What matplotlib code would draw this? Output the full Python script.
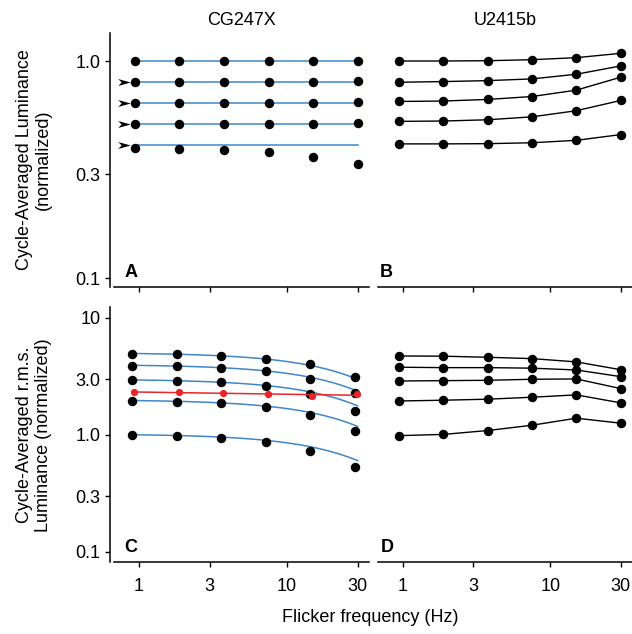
import numpy as np
import matplotlib
matplotlib.use("Agg")
import matplotlib.pyplot as plt
from matplotlib.path import Path
from matplotlib.ticker import NullLocator

plt.rcParams['font.family'] = ['Liberation Sans', 'DejaVu Sans']

# flicker frequencies (Hz)
freqs = [0.9375, 1.875, 3.75, 7.5, 15, 30]

# A: CG247X cycle-averaged luminance, one row per level
lum_cg = [
    [1.0, 1.0, 1.0, 1.0, 1.0, 1.0],
    [0.80, 0.80, 0.80, 0.80, 0.80, 0.81],
    [0.64, 0.64, 0.64, 0.64, 0.64, 0.65],
    [0.51, 0.51, 0.51, 0.51, 0.512, 0.52],
    [0.398, 0.395, 0.391, 0.380, 0.360, 0.337],
]
# nominal levels (blue lines) and the arrowed ones
lum_levels = [1.0, 0.8, 0.64, 0.512, 0.41]
arrow_levels = [0.8, 0.64, 0.512, 0.41]

# B: U2415b cycle-averaged luminance
lum_u = [
    [1.0, 1.0, 1.003, 1.014, 1.036, 1.085],
    [0.798, 0.804, 0.812, 0.827, 0.869, 0.949],
    [0.651, 0.654, 0.665, 0.686, 0.734, 0.842],
    [0.527, 0.529, 0.536, 0.553, 0.590, 0.658],
    [0.415, 0.415, 0.416, 0.420, 0.431, 0.458],
]

# C: CG247X r.m.s. luminance
rms_cg = [
    [4.92, 4.90, 4.73, 4.49, 4.04, 3.11],
    [3.91, 3.87, 3.76, 3.52, 3.01, 2.27],
    [2.93, 2.89, 2.82, 2.61, 2.25, 1.60],
    [1.95, 1.93, 1.87, 1.73, 1.47, 1.07],
    [0.994, 0.975, 0.943, 0.871, 0.734, 0.536],
]
rms_cg_red = [2.32, 2.33, 2.27, 2.23, 2.15, 2.23]
# low-pass model curves (amplitude, time constant in Hz)
fit_amp = [5.05, 4.0, 3.0, 2.0, 1.02]
fit_fc = 57.0

# D: U2415b r.m.s. luminance
rms_u = [
    [4.73, 4.71, 4.61, 4.49, 4.21, 3.61],
    [3.79, 3.76, 3.76, 3.72, 3.59, 3.15],
    [2.89, 2.91, 2.93, 2.99, 3.01, 2.49],
    [1.95, 1.98, 2.02, 2.10, 2.20, 1.88],
    [0.986, 1.01, 1.09, 1.21, 1.39, 1.26],
]

xticks = [1, 3, 10, 30]
xticklabels = ['1', '3', '10', '30']
top_yticks = [0.1, 0.3, 1.0]
top_yticklabels = ['0.1', '0.3', '1.0']
bot_yticks = [0.1, 0.3, 1.0, 3.0, 10]
bot_yticklabels = ['0.1', '0.3', '1.0', '3.0', '10']

blue = '#3f87c9'
red = '#e8262a'
fs = 13

W, H = 632, 634
fig = plt.figure(figsize=(W / 100, H / 100), dpi=100)


def px_axes(x0, y0, x1, y1):
    # pixel box (top-left origin) -> figure axes
    return fig.add_axes([x0 / W, 1 - y1 / H, (x1 - x0) / W, (y1 - y0) / H])


axA = px_axes(114, 33, 369, 287)
axB = px_axes(378, 33, 632, 287)
axC = px_axes(114, 307, 369, 562)
axD = px_axes(378, 307, 632, 562)

for ax in (axA, axB, axC, axD):
    ax.set_xscale('log')
    ax.set_yscale('log')
    ax.set_xlim(0.677, 35.8)
    ax.spines['top'].set_visible(False)
    ax.spines['right'].set_visible(False)
    for s in ax.spines.values():
        s.set_linewidth(1.1)
    ax.set_xticks(xticks)
    ax.xaxis.set_minor_locator(NullLocator())
    ax.yaxis.set_minor_locator(NullLocator())
    ax.tick_params(length=3.6, width=1.0, labelsize=fs, pad=3)
    ax.tick_params(axis='x', pad=8)

for ax in (axA, axB):
    ax.set_ylim(0.0909, 1.346)
    ax.set_xticklabels([])
for ax in (axC, axD):
    ax.set_ylim(0.082, 12.4)
    ax.set_xticklabels(xticklabels)

for ax in (axA, axC):
    ax.spines['left'].set_position(('outward', 3))
axA.set_yticks(top_yticks)
axA.set_yticklabels(top_yticklabels)
axC.set_yticks(bot_yticks)
axC.set_yticklabels(bot_yticklabels)
for ax in (axB, axD):
    ax.spines['left'].set_visible(False)
    ax.set_yticks([])

dot = dict(marker='o', ms=5.8, color='black', linestyle='none', zorder=3)

# A
for lvl in lum_levels:
    axA.plot([freqs[0], freqs[-1]], [lvl, lvl], color=blue, lw=1.1, zorder=2)
for row in lum_cg:
    axA.plot(freqs, row, **dot)
arrow = Path([(-1, 0.55), (1, 0), (-1, -0.55), (-0.45, 0), (-1, 0.55)],
             [Path.MOVETO, Path.LINETO, Path.LINETO, Path.LINETO, Path.CLOSEPOLY])
axA.plot([0.785] * len(arrow_levels), arrow_levels, marker=arrow, ms=9,
         color='black', linestyle='none', markeredgewidth=0)

# B
for row in lum_u:
    axB.plot(freqs, row, color='black', lw=1.0, marker='o', ms=5.8)

# C
fgrid = np.logspace(np.log10(freqs[0] * 0.95), np.log10(freqs[-1]), 200)
for a in fit_amp:
    axC.plot(fgrid, a * np.exp(-fgrid / fit_fc), color=blue, lw=1.1, zorder=2)
for row in rms_cg:
    axC.plot(np.array(freqs) * 0.96, row, **dot)
fr = np.array(freqs) * 0.99
coef = np.polyfit(np.log10(fr), np.log10(rms_cg_red), 1)
axC.plot(fr, 10 ** np.polyval(coef, np.log10(fr)), color=red, lw=1.1, zorder=4)
axC.plot(fr, rms_cg_red, marker='o', ms=4.2, color=red, linestyle='none', zorder=5)

# D
for row in rms_u:
    axD.plot(freqs, row, color='black', lw=1.0, marker='o', ms=5.8)

for ax, letter, xf in ((axA, 'A', 0.043), (axB, 'B', 0.008),
                       (axC, 'C', 0.04), (axD, 'D', 0.01)):
    ax.text(xf, 0.025, letter, transform=ax.transAxes, fontsize=fs,
            fontweight='bold', ha='left', va='bottom')

axA.set_title('CG247X', fontsize=fs, pad=6)
axB.set_title('U2415b', fontsize=fs, pad=6)

fig.text(34 / W, 1 - 160 / H, 'Cycle-Averaged Luminance\n(normalized)',
         rotation=90, ha='center', va='center', fontsize=fs, multialignment='center')
fig.text(34 / W, 1 - 435 / H, 'Cycle-Averaged r.m.s.\nLuminance (normalized)',
         rotation=90, ha='center', va='center', fontsize=fs, multialignment='center')
fig.text(370 / W, 1 - 617 / H, 'Flicker frequency (Hz)', ha='center', va='center',
         fontsize=fs)

fig.savefig('out.png', dpi=100)
